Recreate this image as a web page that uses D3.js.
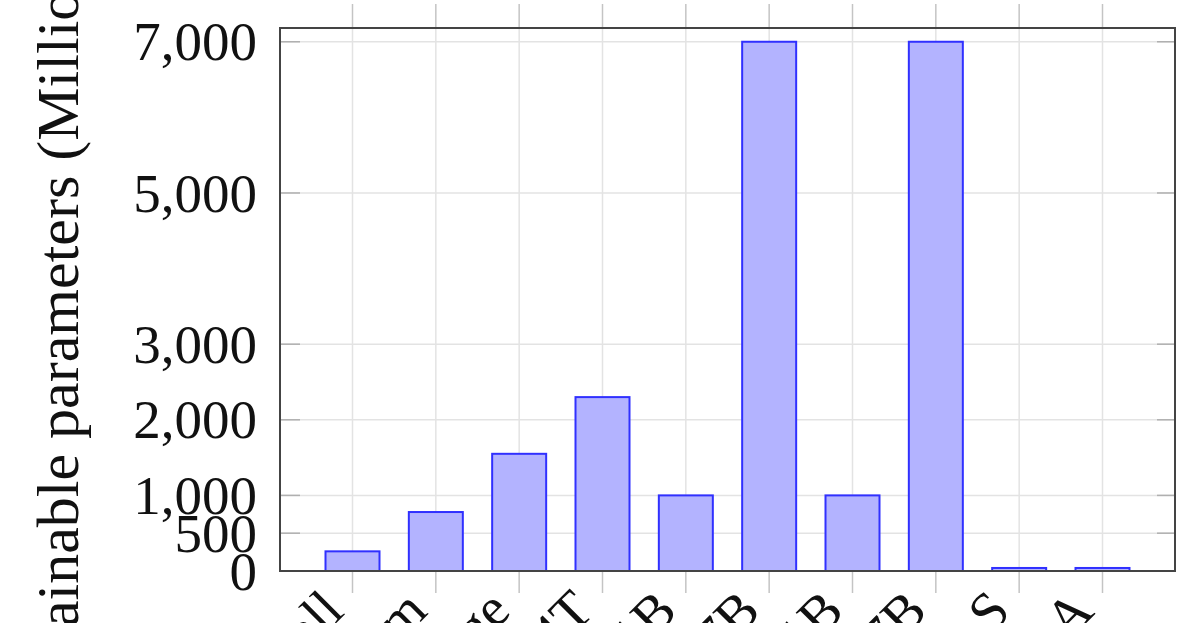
<!DOCTYPE html>
<html>
<head>
<meta charset="utf-8">
<script src="https://cdn.jsdelivr.net/npm/d3@7"></script>
<style>
  html, body { margin: 0; padding: 0; background: #fff; overflow: hidden; }
  svg text { font-family: "Liberation Serif", "DejaVu Serif", serif; fill: #111; }
</style>
</head>
<body>
<div id="chart"></div>
<script>
const width = 1200;
const height = 623;

// data
const models = ["Whisper small", "Whisper medium", "Whisper large", "SeamlessM4T",
    "LLaMA 3.2 1B", "LLaMA 2 7B", "TinyLlama 1.1B", "Mistral 7B", "Conformer-S", "Conformer-A"];
const params = [260, 780, 1550, 2300, 1000, 7000, 1000, 7000, 40, 40];
const yTicks = [0, 500, 1000, 2000, 3000, 5000, 7000];
const yLabel = "Trainable parameters (Millions)";

const margin = { top: 28, right: 25, bottom: 52, left: 280 };

const svg = d3.select("#chart")
    .append("svg")
    .attr("width", width)
    .attr("height", height);

const x = d3.scalePoint()
    .domain(models)
    .range([margin.left, width - margin.right])
    .padding(0.87);

const y = d3.scaleLinear()
    .domain([0, 7182])
    .range([height - margin.bottom, margin.top]);

const x0 = margin.left, x1 = width - margin.right;
const y0 = height - margin.bottom, y1 = margin.top;

// grid
svg.append("g")
    .selectAll("line")
    .data(models)
    .join("line")
    .attr("x1", d => x(d)).attr("x2", d => x(d))
    .attr("y1", y1).attr("y2", y0)
    .attr("stroke", "#e3e3e3").attr("stroke-width", 1.5);

svg.append("g")
    .selectAll("line")
    .data(yTicks)
    .join("line")
    .attr("x1", x0).attr("x2", x1)
    .attr("y1", d => y(d)).attr("y2", d => y(d))
    .attr("stroke", "#e3e3e3").attr("stroke-width", 1.5);

// x tick marks, outside top and bottom
const xt = svg.append("g").attr("stroke", "#c4c4c4").attr("stroke-width", 1.5);
xt.selectAll(".b").data(models).join("line").attr("class", "b")
    .attr("x1", d => x(d)).attr("x2", d => x(d))
    .attr("y1", y0).attr("y2", y0 + 22);
xt.selectAll(".t").data(models).join("line").attr("class", "t")
    .attr("x1", d => x(d)).attr("x2", d => x(d))
    .attr("y1", y1).attr("y2", y1 - 24);

// y tick marks, inside left and right
const yt = svg.append("g").attr("stroke", "#b0b0b0").attr("stroke-width", 1.5);
yt.selectAll(".l").data(yTicks).join("line").attr("class", "l")
    .attr("x1", x0).attr("x2", x0 + 20)
    .attr("y1", d => y(d)).attr("y2", d => y(d));
yt.selectAll(".r").data(yTicks).join("line").attr("class", "r")
    .attr("x1", x1 - 18).attr("x2", x1)
    .attr("y1", d => y(d)).attr("y2", d => y(d));

// bars
const barW = 54;
svg.append("g")
    .selectAll("rect")
    .data(params)
    .join("rect")
    .attr("x", (d, i) => x(models[i]) - barW / 2)
    .attr("y", d => y(d))
    .attr("width", barW)
    .attr("height", d => y(0) - y(d))
    .attr("fill", "#b3b3ff")
    .attr("stroke", "#3030ff")
    .attr("stroke-width", 2);

// frame
svg.append("rect")
    .attr("x", x0).attr("y", y1)
    .attr("width", x1 - x0).attr("height", y0 - y1)
    .attr("fill", "none")
    .attr("stroke", "#444").attr("stroke-width", 2);

// y tick labels
svg.append("g")
    .selectAll("text")
    .data(yTicks)
    .join("text")
    .attr("x", 257)
    .attr("y", d => y(d))
    .attr("dy", "0.34em")
    .attr("text-anchor", "end")
    .attr("font-size", 55)
    .text(d3.format(","));

// x tick labels, rotated
svg.append("g")
    .selectAll("text")
    .data(models)
    .join("text")
    .attr("transform", d => `translate(${x(d) - 30},${y0 + 19}) rotate(-45)`)
    .attr("dy", "0.6em")
    .attr("text-anchor", "end")
    .attr("font-size", 55)
    .text(d => d);

// y axis label
svg.append("text")
    .attr("transform", `translate(78,${(y0 + y1) / 2}) rotate(-90)`)
    .attr("text-anchor", "middle")
    .attr("font-size", 60)
    .text(yLabel);
</script>
</body>
</html>
